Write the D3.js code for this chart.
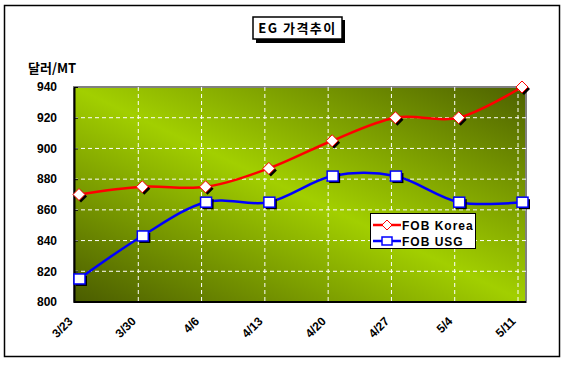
<!DOCTYPE html>
<html>
<head>
<meta charset="utf-8">
<script src="https://cdn.jsdelivr.net/npm/d3@7"></script>
<style>
body { margin: 0; background: #fff; }
text { font-family: "Liberation Sans", Arial, sans-serif; font-weight: bold; }
.kr { font-family: "Noto Sans CJK KR", sans-serif; }
</style>
</head>
<body>
<div id="chart"></div>
<script>
var dates = ["3/23", "3/30", "4/6", "4/13", "4/20", "4/27", "5/4", "5/11"];
var korea = [870, 875, 875, 887, 905, 920, 920, 940];
var usg = [815, 843, 865, 865, 882, 882, 865, 865];
var yTicks = [800, 820, 840, 860, 880, 900, 920, 940];
var seriesNames = ["FOB Korea", "FOB USG"];

var W = 566, H = 365;
var plot = {left: 74, top: 87, right: 526, bottom: 302};

var svg = d3.select("#chart").append("svg").attr("width", W).attr("height", H);

// outer frame
svg.append("rect").attr("x", 4.5).attr("y", 5.5).attr("width", 555).attr("height", 351)
    .attr("fill", "#fff").attr("stroke", "#000").attr("stroke-width", 1.5);

var defs = svg.append("defs");
var grad = defs.append("linearGradient").attr("id", "bg")
    .attr("x1", 0).attr("y1", 1).attr("x2", 1).attr("y2", 0);
grad.append("stop").attr("offset", "0%").attr("stop-color", "#4a5c00");
grad.append("stop").attr("offset", "50%").attr("stop-color", "#a2cf00");
grad.append("stop").attr("offset", "100%").attr("stop-color", "#4d6100");

var x = d3.scalePoint().domain(dates).range([79, 522]);
var y = d3.scaleLinear().domain([800, 940]).range([plot.bottom, plot.top]);

// plot area
svg.append("rect").attr("x", plot.left).attr("y", plot.top)
    .attr("width", plot.right - plot.left).attr("height", plot.bottom - plot.top)
    .attr("fill", "url(#bg)").attr("stroke", "#808080").attr("stroke-width", 2);

// grid lines
svg.append("g").selectAll("line").data(yTicks.slice(1, -1)).enter().append("line")
    .attr("x1", plot.left).attr("x2", plot.right)
    .attr("y1", d => y(d)).attr("y2", d => y(d))
    .attr("stroke", "#fff").attr("stroke-dasharray", "4,3");
svg.append("g").selectAll("line").data(dates.slice(1)).enter().append("line")
    .attr("x1", d => x(d) - 4).attr("x2", d => x(d) - 4)
    .attr("y1", plot.top).attr("y2", plot.bottom)
    .attr("stroke", "#fff").attr("stroke-dasharray", "4,3");

// axes
var yAxis = svg.append("g").attr("transform", "translate(" + plot.left + ",0)")
    .call(d3.axisLeft(y).tickValues(yTicks).tickSizeInner(-4).tickSizeOuter(0).tickPadding(17));
yAxis.select(".domain").attr("stroke", "#000").attr("stroke-width", 2);
yAxis.selectAll("text").attr("font-size", 12).attr("fill", "#000")
    .style("font-family", "Liberation Sans, Arial, sans-serif").style("font-weight", "bold");
yAxis.selectAll(".tick line").attr("stroke", "#000");

var xAxis = svg.append("g").attr("transform", "translate(0," + plot.bottom + ")")
    .call(d3.axisBottom(x).tickSize(0).tickSizeOuter(0));
xAxis.select(".domain").attr("d", "M" + plot.left + ",0H" + plot.right)
    .attr("stroke", "#000").attr("stroke-width", 2);
xAxis.selectAll("text").attr("font-size", 12).attr("fill", "#000")
    .style("font-family", "Liberation Sans, Arial, sans-serif").style("font-weight", "bold")
    .attr("text-anchor", "end")
    .attr("y", 0).attr("dy", 0)
    .attr("transform", "translate(-6,20) rotate(-45)");

// y unit label
svg.append("text").attr("class", "kr").attr("x", 28).attr("y", 73)
    .attr("font-size", 13).text("달러/MT");

// title box
svg.append("rect").attr("x", 256).attr("y", 20).attr("width", 89).attr("height", 23).attr("fill", "#000");
svg.append("rect").attr("x", 253).attr("y", 17).attr("width", 89).attr("height", 22)
    .attr("fill", "#fff").attr("stroke", "#000").attr("stroke-width", 1.5);
svg.append("text").attr("class", "kr").attr("x", 297.5).attr("y", 33)
    .attr("text-anchor", "middle").attr("font-size", 13).attr("letter-spacing", 1.5).text("EG 가격추이");

// lines
var line = d3.line().x((d, i) => x(dates[i])).y(d => y(d)).curve(d3.curveCatmullRom.alpha(0));
var series = [
    {name: seriesNames[0], values: korea, color: "#ff0000", shape: "diamond"},
    {name: seriesNames[1], values: usg, color: "#0000ff", shape: "square"}
];

function marker(g, shape, color, cx, cy) {
    if (shape === "diamond") {
        var p = "M0,-6L6,0L0,6L-6,0Z";
        g.append("path").attr("d", p).attr("transform", "translate(" + (cx + 2) + "," + (cy + 2) + ")").attr("fill", "#000");
        g.append("path").attr("d", p).attr("transform", "translate(" + cx + "," + cy + ")")
            .attr("fill", "#fff").attr("stroke", color).attr("stroke-width", 1);
    } else {
        g.append("rect").attr("x", cx - 5 + 2).attr("y", cy - 5 + 2).attr("width", 11).attr("height", 10).attr("fill", "#000");
        g.append("rect").attr("x", cx - 5).attr("y", cy - 5).attr("width", 11).attr("height", 10)
            .attr("fill", "#fff").attr("stroke", color).attr("stroke-width", 1.5);
    }
}

series.forEach(function (s) {
    svg.append("path").datum(s.values).attr("d", line)
        .attr("fill", "none").attr("stroke", s.color).attr("stroke-width", 2.5);
});
series.forEach(function (s) {
    var g = svg.append("g");
    s.values.forEach(function (v, i) { marker(g, s.shape, s.color, x(dates[i]), y(v)); });
});

// legend
var lg = svg.append("g");
lg.append("rect").attr("x", 370.5).attr("y", 213.5).attr("width", 105).attr("height", 35)
    .attr("fill", "#fff").attr("stroke", "#000");
series.forEach(function (s, i) {
    var cy = 225 + i * 16;
    lg.append("line").attr("x1", 373).attr("x2", 401).attr("y1", cy).attr("y2", cy)
        .attr("stroke", s.color).attr("stroke-width", 2.5);
    if (s.shape === "diamond") {
        lg.append("path").attr("d", "M0,-5L5,0L0,5L-5,0Z").attr("transform", "translate(387," + cy + ")")
            .attr("fill", "#fff").attr("stroke", s.color);
    } else {
        lg.append("rect").attr("x", 382).attr("y", cy - 4).attr("width", 10).attr("height", 8)
            .attr("fill", "#fff").attr("stroke", s.color).attr("stroke-width", 1.5);
    }
    lg.append("text").attr("x", 402).attr("y", cy + 5).attr("font-size", 12)
        .attr("letter-spacing", 1).text(s.name);
});
</script>
</body>
</html>
